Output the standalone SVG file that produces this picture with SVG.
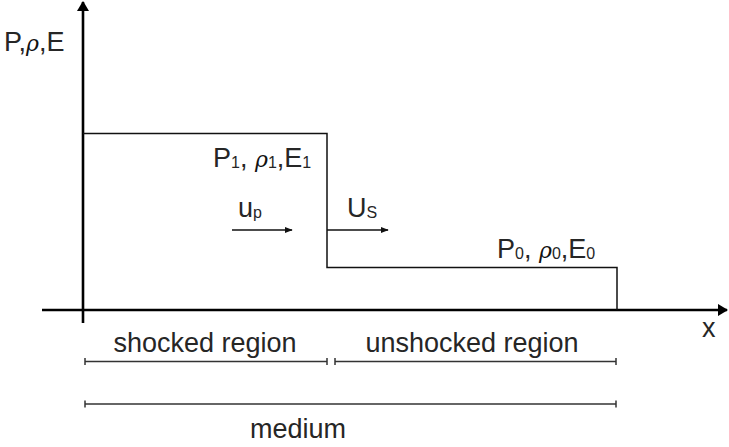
<svg xmlns="http://www.w3.org/2000/svg" width="729" height="447" viewBox="0 0 729 447">
<style>
  text { font-family: "Liberation Sans", Arial, sans-serif; font-size: 27px; fill: #262626; }
  .sub { font-size: 16px; }
  .rho { font-family: "DejaVu Serif", "Liberation Serif", serif; font-style: italic; font-size: 22px; fill: #111; }
  .axis { stroke: #000; stroke-width: 2.6; fill: none; }
  .prof { stroke: #111; stroke-width: 1.5; fill: none; }
  .dim { stroke: #333; stroke-width: 1.5; fill: none; }
  .arr { stroke: #111; stroke-width: 1.3; fill: none; }
</style>
<defs>
  <marker id="big" viewBox="0 0 10 12" refX="9" refY="6" markerWidth="4" markerHeight="4.8" orient="auto" markerUnits="strokeWidth">
    <path d="M0,0 L10,6 L0,12 Z" fill="#000"/>
  </marker>
  <marker id="small" viewBox="0 0 10 10" refX="9" refY="5" markerWidth="6" markerHeight="6" orient="auto" markerUnits="strokeWidth">
    <path d="M0,1 L10,5 L0,9 Z" fill="#111"/>
  </marker>
</defs>
<g id="connectors">
  <line id="y-axis" class="axis" x1="83" y1="323" x2="83" y2="2" marker-end="url(#big)"/>
  <line id="x-axis" class="axis" x1="42" y1="310" x2="727" y2="310" marker-end="url(#big)"/>
  <polyline id="profile" class="prof" points="83,133.5 327,133.5 327,267.5 617,267.5 617,310"/>
  <line id="up-arrow" class="arr" x1="232" y1="230" x2="292" y2="230" marker-end="url(#small)"/>
  <line id="us-arrow" class="arr" x1="327" y1="230" x2="388" y2="230" marker-end="url(#small)"/>
  <g id="dim-shocked" class="dim">
    <line x1="85" y1="361.5" x2="327" y2="361.5"/>
    <line x1="85" y1="358" x2="85" y2="365"/>
    <line x1="327" y1="358" x2="327" y2="365"/>
  </g>
  <g id="dim-unshocked" class="dim">
    <line x1="335" y1="361.5" x2="616" y2="361.5"/>
    <line x1="335" y1="358" x2="335" y2="365"/>
    <line x1="616" y1="358" x2="616" y2="365"/>
  </g>
  <g id="dim-medium" class="dim">
    <line x1="85" y1="404" x2="616" y2="404"/>
    <line x1="85" y1="400.5" x2="85" y2="407.5"/>
    <line x1="616" y1="400.5" x2="616" y2="407.5"/>
  </g>
</g>
<g id="label-axis-y"><text x="4" y="51">P,<tspan class="rho">ρ</tspan>,E</text></g>
<g id="label-axis-x"><text x="702" y="337">x</text></g>
<g id="label-state1"><text x="213" y="167">P<tspan class="sub" dy="1">1</tspan><tspan dy="-1">, </tspan><tspan class="rho">ρ</tspan><tspan class="sub" dy="1">1</tspan><tspan dy="-1">,E</tspan><tspan class="sub" dy="1">1</tspan></text></g>
<g id="label-up"><text x="238" y="217">u<tspan class="sub" dy="1">p</tspan></text></g>
<g id="label-us"><text x="347" y="217">U<tspan class="sub" dy="1">S</tspan></text></g>
<g id="label-state0"><text x="497" y="258">P<tspan class="sub" dy="1">0</tspan><tspan dy="-1">, </tspan><tspan class="rho">ρ</tspan><tspan class="sub" dy="1">0</tspan><tspan dy="-1">,E</tspan><tspan class="sub" dy="1">0</tspan></text></g>
<g id="label-shocked"><text x="205" y="352" text-anchor="middle">shocked region</text></g>
<g id="label-unshocked"><text x="472" y="352" text-anchor="middle">unshocked region</text></g>
<g id="label-medium"><text x="298" y="438" text-anchor="middle">medium</text></g>
</svg>
